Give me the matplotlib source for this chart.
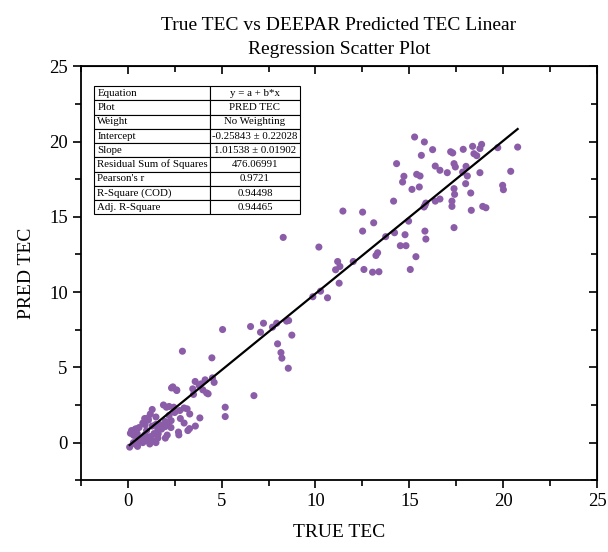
import numpy as np
import matplotlib
matplotlib.use("Agg")
import matplotlib.pyplot as plt
from matplotlib.ticker import MultipleLocator

plt.rcParams['font.family'] = ['Liberation Serif', 'DejaVu Serif']

true_tec = [
    0.10, 0.20, 0.30, 0.40, 0.50, 0.60, 0.70, 0.80, 0.80, 0.90, 1.00, 1.00, 1.10, 1.10, 1.20,
    1.30, 1.30, 1.40, 1.50, 1.50, 1.60, 1.70, 1.80, 1.90, 2.00, 2.10, 2.20, 2.30, 2.40, 2.50,
    2.60, 2.70, 2.80, 2.91, 3.00, 3.20, 3.30, 3.50, 3.60, 3.80, 4.00, 4.12, 4.20, 4.28, 4.51,
    4.48, 4.60, 5.19, 5.19, 5.05, 0.30, 0.60, 0.90, 1.20, 0.40, 2.00, 1.60, 2.20, 3.00, 3.90,
    2.33, 2.61, 3.59, 3.46, 6.72, 3.16, 3.84, 3.29, 2.72, 2.06, 2.45, 2.77, 2.11, 2.31, 1.08,
    0.92, 1.49, 1.99, 0.28, 0.46, 0.52, 1.17, 1.35, 0.14, 0.37, 0.68, 1.62,
    6.54, 7.07, 7.23, 7.71, 7.93, 8.46, 8.57, 8.74, 7.98, 8.16, 8.21, 8.55, 8.28,
    10.18, 9.86, 10.27, 10.64, 11.18, 11.30, 11.07, 11.26, 11.46, 12.51, 12.51, 13.10,
    12.01, 12.58, 13.04, 13.38, 13.22, 13.31, 13.74, 14.16, 14.21, 14.77, 14.96, 14.52,
    14.82, 15.35, 15.05, 15.83, 15.88, 15.83,
    15.28, 15.80, 15.64, 16.24, 14.32, 14.71, 14.64, 15.14, 15.53, 15.39, 15.57, 16.38,
    16.63, 17.02, 17.20, 17.31, 17.87, 18.37, 18.85, 18.44, 18.59, 18.76, 19.71, 20.77,
    17.38, 17.45, 18.02, 17.84, 18.09, 18.76, 18.00, 17.38, 17.41, 18.27, 17.27, 17.27,
    16.63, 16.38, 15.88, 15.78, 18.30, 18.91, 19.08, 19.97, 20.01, 20.40, 17.38,
]
pred_tec = [
    -0.30, 0.80, 0.50, 0.90, 0.60, 1.00, 0.30, 0.00, 1.30, 0.50, 0.20, 0.80, 1.50, 0.10, 0.40,
    1.10, 2.20, 0.60, 0.00, 1.70, 0.30, 1.20, 0.90, 2.50, 1.40, 0.50, 2.40, 1.00, 3.70, 2.00,
    3.50, 0.70, 1.60, 6.07, 2.30, 0.80, 1.90, 3.20, 1.10, 3.80, 3.50, 4.17, 3.30, 3.24, 4.30,
    5.63, 4.00, 2.35, 1.73, 7.51, 0.00, 0.20, 1.60, 1.90, -0.10, 0.30, 0.90, 1.80, 1.30, 3.90,
    3.63, 3.46, 4.06, 3.57, 3.12, 2.24, 1.64, 0.93, 0.51, 2.35, 2.35, 2.13, 1.24, 1.46, 1.64,
    1.20, 1.20, 1.06, 0.75, 0.91, -0.25, -0.09, 0.13, 0.62, 0.47, 0.13, 0.58,
    7.71, 7.33, 7.93, 7.67, 7.93, 8.07, 8.11, 7.14, 6.56, 5.98, 5.61, 4.94, 13.63,
    12.99, 9.69, 10.06, 9.62, 12.03, 11.70, 11.48, 10.59, 15.38, 15.31, 14.05, 14.60,
    12.03, 11.50, 11.32, 11.35, 12.43, 12.61, 13.68, 16.04, 13.94, 13.81, 14.71, 13.08,
    13.08, 12.35, 11.50, 14.05, 13.52, 15.76,
    20.30, 19.97, 19.08, 19.46, 18.53, 17.69, 17.31, 16.82, 16.98, 17.82, 17.71, 18.37,
    18.09, 17.93, 19.32, 19.24, 19.48, 19.68, 19.81, 19.19, 19.06, 19.53, 19.59, 19.63,
    18.53, 18.31, 18.35, 17.97, 17.71, 17.93, 17.20, 16.87, 16.49, 16.58, 16.04, 15.69,
    16.18, 16.04, 15.91, 15.65, 15.43, 15.69, 15.60, 17.09, 16.80, 18.02, 14.28,
]

intercept = -0.25843
slope = 1.01538

table_labels = ["Equation", "Plot", "Weight", "Intercept", "Slope",
                "Residual Sum of Squares", "Pearson's r", "R-Square (COD)", "Adj. R-Square"]
table_values = ["y = a + b*x", "PRED TEC", "No Weighting", "-0.25843 \u00b1 0.22028",
                "1.01538 \u00b1 0.01902", "476.06991", "0.9721", "0.94498", "0.94465"]

x = np.array(true_tec)
y = np.array(pred_tec)

fig = plt.figure(figsize=(6.08, 5.52), dpi=100)
ax = fig.add_axes([0.133, 0.130, 0.849, 0.750])

ax.scatter(x, y, s=26, color='#8b5ca8', edgecolors='none', zorder=3)
xl = np.array([x.min(), x.max()])
ax.plot(xl, intercept + slope * xl, color='black', lw=1.6, zorder=4)

ax.set_xlim(-2.5, 25)
ax.set_ylim(-2.5, 25)
ax.xaxis.set_major_locator(MultipleLocator(5))
ax.xaxis.set_minor_locator(MultipleLocator(2.5))
ax.yaxis.set_major_locator(MultipleLocator(5))
ax.yaxis.set_minor_locator(MultipleLocator(2.5))
ax.tick_params(axis='both', which='both', direction='out', labelsize=13.5,
               top=False, right=False, width=1.2)
ax.tick_params(which='major', length=6)
ax.tick_params(which='minor', length=4)
for sp in ax.spines.values():
    sp.set_linewidth(1.3)

# inward ticks on top and right
secx = ax.secondary_xaxis('top')
secx.xaxis.set_major_locator(MultipleLocator(5))
secx.xaxis.set_minor_locator(MultipleLocator(2.5))
secx.tick_params(which='both', direction='in', labeltop=False, width=1.2)
secx.tick_params(which='major', length=6)
secx.tick_params(which='minor', length=4)
secy = ax.secondary_yaxis('right')
secy.yaxis.set_major_locator(MultipleLocator(5))
secy.yaxis.set_minor_locator(MultipleLocator(2.5))
secy.tick_params(which='both', direction='in', labelright=False, width=1.2)
secy.tick_params(which='major', length=6)
secy.tick_params(which='minor', length=4)

ax.set_xlabel("TRUE TEC", fontsize=14, labelpad=10)
ax.set_ylabel("PRED TEC", fontsize=14, labelpad=10)
ax.set_title("True TEC vs DEEPAR Predicted TEC Linear\nRegression Scatter Plot",
             fontsize=14, pad=9, linespacing=1.55)

cell_text = [[a, b] for a, b in zip(table_labels, table_values)]
tab = ax.table(cellText=cell_text, cellLoc='center',
               colWidths=[0.225, 0.176],
               bbox=[0.025, 0.642, 0.40, 0.31])
tab.auto_set_font_size(False)
tab.set_fontsize(7.8)
for (r, c), cell in tab.get_celld().items():
    cell.set_linewidth(0.8)
    cell.set_edgecolor('black')
    cell.PAD = 0.03
    if c == 0:
        cell.set_text_props(ha='left')
        cell._loc = 'left'

fig.savefig("out.png", dpi=100)
